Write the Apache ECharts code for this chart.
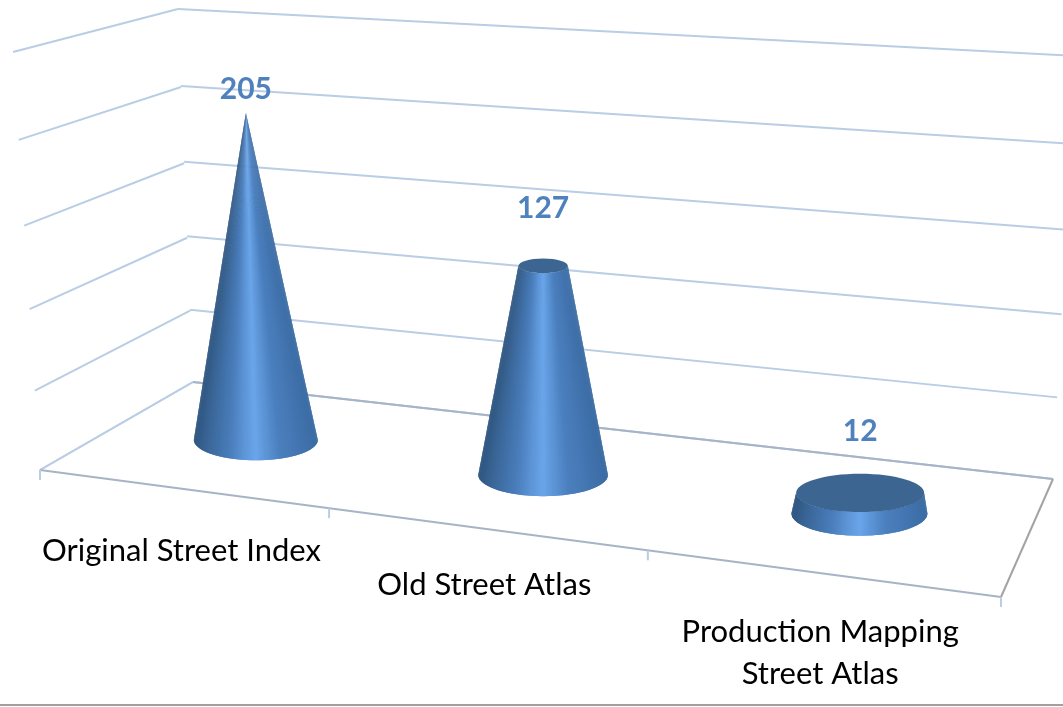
<!DOCTYPE html>
<html><head><meta charset="utf-8">
<style>html,body{margin:0;padding:0;background:#fff}#c{width:1063px;height:707px}</style>
<script src="https://cdn.jsdelivr.net/npm/echarts@6/dist/echarts.min.js"></script>
</head><body><div id="c"></div>
<script>
const categories = ['Original Street Index', 'Old Street Atlas', 'Production Mapping\nStreet Atlas'];
const values = [205, 127, 12];
const wallTicks = [0, 50, 100, 150, 200, 250];

// scene geometry (view of the 3-D box)
const FL=[40,470], FR=[1001,597], BR=[1053,479], BL=[193,382], TL=[178,9], TR=[1075,56], FT=[13,52];
const GRID_H=400, LABEL_DY=[-24,-58,-62], CAT_TOP=[41,35,38];
const palette=['#3b6ca3','#4072ad','#4679b6','#4a7fbe','#5a92d3','#6aa5ea','#5c94d6','#4b7fbd','#4272ab','#3a6697','#2f5680'];

function homography(p00,p10,p11,p01){
  const [x0,y0]=p00,[x1,y1]=p10,[x2,y2]=p11,[x3,y3]=p01;
  const dx1=x1-x2,dx2=x3-x2,sx=x0-x1+x2-x3,dy1=y1-y2,dy2=y3-y2,sy=y0-y1+y2-y3;
  const det=dx1*dy2-dx2*dy1;
  const g=(sx*dy2-dx2*sy)/det,h=(dx1*sy-sx*dy1)/det;
  const a=x1-x0+g*x1,b=x3-x0+h*x3,d=y1-y0+g*y1,e=y3-y0+h*y3;
  return (u,v)=>{const w=g*u+h*v+1;return [(a*u+b*v+x0)/w,(d*u+e*v+y0)/w];};
}
const rawFloor=homography(FL,FR,BR,BL), backAt=homography(BL,BR,TR,TL), leftAt=homography(FL,BL,TL,FT);
const floorAt=(u,w)=>rawFloor(u+0.003*Math.sqrt(Math.max(0,Math.sin(Math.PI*u))),w);
const line=(a,b,color,w)=>({type:'line',shape:{x1:a[0],y1:a[1],x2:b[0],y2:b[1]},style:{stroke:color,lineWidth:w}});
const depthScale=y=>(1.595+(y-440)*0.00144)/(GRID_H/250);

function renderWall(params,api){
  const t=(api.coord([0,0])[1]-api.coord([0,api.value(0)])[1])/GRID_H;
  const color='#b9cde5';
  return {type:'group',children:[line(leftAt(0,t),leftAt(1,t),color,2),line(backAt(0,t),backAt(1,t),color,2)]};
}
function renderFloor(params,api){
  const n=categories.length, kids=[];
  kids.push(line(FL,BL,'#b9cde5',2));
  kids.push(line(BL,BR,'#a7b4c6',2));
  kids.push(line(FL,FR,'#a7b4c6',2));
  kids.push(line(FR,BR,'#a3a3a3',2));
  for(let i=0;i<=n;i++){
    const p=floorAt(i/n,0);
    kids.push(line(p,[p[0],p[1]+10],'#b9cde5',2));
  }
  return {type:'group',children:kids};
}
function renderCone(params,api){
  const i=api.value(0), v=api.value(1);
  const bandW=api.size([1,0])[0], xc=api.coord([i,0])[0];
  const c=floorAt(xc/(bandW*categories.length),0.5);
  const f=depthScale(c[1]);
  const R=62*(1+(c[1]-440)*0.00132), h=(api.coord([i,0])[1]-api.coord([i,v])[1])*f;
  const rt=R*(1-v/Math.max(...values)), topY=c[1]-h;
  const topX=c[0]+h*(c[0]-543)*0.000106;
  const ratioB=0.33, ratioT=0.3, N=90, kids=[];
  for(let j=0;j<N;j++){
    const a=Math.PI*j/N, b=Math.PI*Math.min(j+2,N)/N, m=Math.PI*(j+0.5)/N;
    const col=echarts.color.lerp((1-Math.cos(m))/2,palette);
    // each facet overlaps the next one, so no seam shows between them
    kids.push({type:'polygon',shape:{points:[
      [c[0]+R*Math.cos(a),c[1]+R*ratioB*Math.sin(a)],
      [c[0]+R*Math.cos(b),c[1]+R*ratioB*Math.sin(b)],
      [topX+rt*Math.cos(b),topY+rt*ratioT*Math.sin(b)],
      [topX+rt*Math.cos(a),topY+rt*ratioT*Math.sin(a)]
    ]},style:{fill:col}});
  }
  if(rt>1) kids.push({type:'ellipse',shape:{cx:topX,cy:topY,rx:rt,ry:rt*ratioT},style:{fill:'#3c6592'}});
  kids.push({type:'text',style:{x:topX,y:topY+LABEL_DY[i],text:String(v),fill:'#4f81bd',
    font:'bold 30px Lato, "Open Sans", sans-serif',align:'center',verticalAlign:'middle'}});
  return {type:'group',children:kids};
}
function renderLabel(params,api){
  const i=api.value(0), n=categories.length;
  const p=floorAt((i+0.5)/n,0);
  return {type:'text',style:{x:p[0],y:p[1]+CAT_TOP[i],text:categories[i],fill:'#000',
    font:'31px Lato, "Open Sans", sans-serif',lineHeight:42,align:'center',verticalAlign:'top'}};
}

const chart=echarts.init(document.getElementById('c'),null,{renderer:'canvas'});
chart.setOption({
  animation:false,
  backgroundColor:'#fff',
  grid:{left:0,width:1063,top:0,height:GRID_H},
  xAxis:{type:'category',data:categories,show:false},
  yAxis:{type:'value',min:0,max:250,interval:50,show:false},
  graphic:[{type:'rect',shape:{x:0,y:704,width:1063,height:2},style:{fill:'#a0a0a0'}}],
  series:[
    {type:'custom',coordinateSystem:'cartesian2d',renderItem:renderWall,data:wallTicks.map(v=>[v]),encode:{y:0},z:1,silent:true},
    {type:'custom',coordinateSystem:'cartesian2d',renderItem:renderFloor,data:[[0,0]],z:2,silent:true},
    {type:'custom',coordinateSystem:'cartesian2d',renderItem:renderLabel,data:categories.map((c,i)=>[i,0]),z:3,silent:true},
    {type:'custom',coordinateSystem:'cartesian2d',renderItem:renderCone,data:values.map((v,i)=>[i,v]),z:4,silent:true}
  ]
});
</script></body></html>
